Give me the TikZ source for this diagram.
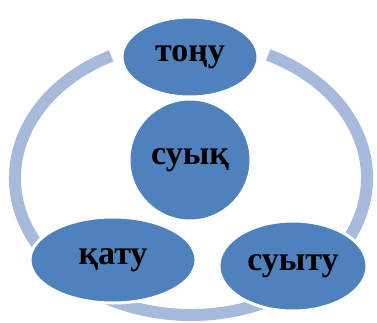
\documentclass[tikz,border=0pt]{standalone}
\usepackage{fontspec}
\setmainfont{Liberation Serif}
\usetikzlibrary{shapes.geometric}

\definecolor{blobblue}{HTML}{4F81BD}
\definecolor{ringblue}{HTML}{A7BADB}

\begin{document}
\begin{tikzpicture}[
  x=1pt, y=1pt,
  every node/.style={font=\fontsize{34}{34}\selectfont\bfseries},
  blob/.style={ellipse, fill=blobblue, draw=white, line width=3pt, inner sep=0pt},
  ring/.style={draw=ringblue, line width=12pt}
]
  \useasboundingbox (0,0) rectangle (377,322);

  \coordinate (ringc) at (191,144);
  \draw[ring] (ringc) ++(117:176 and 137)
    arc[start angle=117, end angle=424, x radius=176, y radius=137];

  \node[blob, circle, minimum size=122pt] (suyk) at (190,162) {суық};
  \node[blob, minimum width=136pt, minimum height=80pt] (tonu) at (190,265) {тоңу};
  \node[blob, minimum width=166pt, minimum height=86pt] (katu) at (113,62) {қату};
  \node[blob, minimum width=148pt, minimum height=90pt] (suytu) at (293,56) {суыту};
\end{tikzpicture}
\end{document}
